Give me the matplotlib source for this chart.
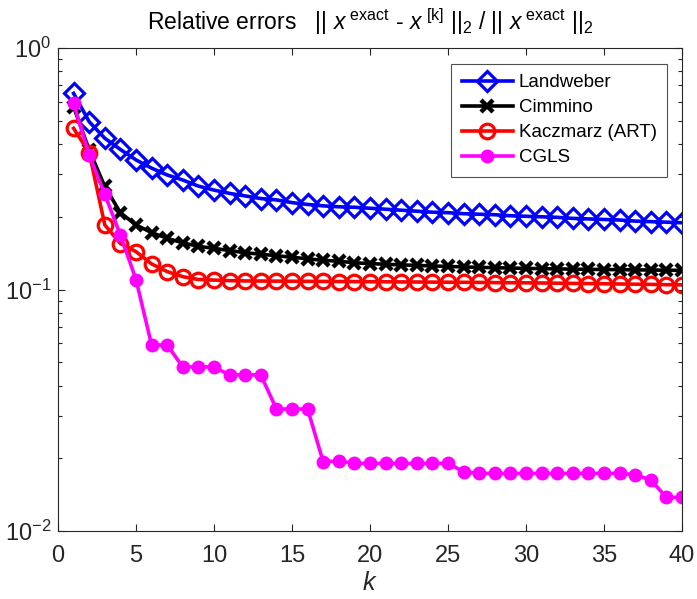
# -*- coding: utf-8 -*-
# relative_errors.py

import numpy as np
import matplotlib
matplotlib.use("Agg")
import matplotlib.pyplot as plt
from matplotlib.ticker import LogLocator, NullFormatter

plt.rcParams['font.family'] = ['Liberation Sans', 'DejaVu Sans']
plt.rcParams['mathtext.fontset'] = 'custom'
plt.rcParams['mathtext.rm'] = 'Liberation Sans'
plt.rcParams['mathtext.it'] = 'Liberation Sans:italic'
plt.rcParams['mathtext.bf'] = 'Liberation Sans:bold'

# iteration numbers
k = np.arange(1, 41)

# relative errors
landweber = [0.649, 0.495, 0.423, 0.380, 0.344, 0.318, 0.298, 0.284, 0.268, 0.258,
             0.250, 0.244, 0.238, 0.235, 0.229, 0.225, 0.222, 0.220, 0.219, 0.217,
             0.215, 0.213, 0.211, 0.209, 0.208, 0.206, 0.205, 0.204, 0.202, 0.201,
             0.200, 0.199, 0.197, 0.196, 0.195, 0.194, 0.192, 0.191, 0.190, 0.189]
cimmino = [0.571, 0.378, 0.267, 0.208, 0.185, 0.172, 0.163, 0.156, 0.151, 0.148,
           0.145, 0.142, 0.140, 0.138, 0.136, 0.134, 0.132, 0.131, 0.129, 0.128,
           0.1272, 0.1265, 0.1258, 0.1252, 0.1246, 0.1240, 0.1235, 0.1231, 0.1227, 0.1223,
           0.1220, 0.1217, 0.1214, 0.1212, 0.1210, 0.1208, 0.1206, 0.1204, 0.1202, 0.1200]
kaczmarz = [0.465, 0.369, 0.185, 0.155, 0.1435, 0.1276, 0.1186, 0.113, 0.110, 0.1094,
            0.1088, 0.1085, 0.1084, 0.1083, 0.1082, 0.1081, 0.1080, 0.1079, 0.1078, 0.1077,
            0.1076, 0.1075, 0.1074, 0.1073, 0.1072, 0.1071, 0.1070, 0.1068, 0.1067, 0.1066,
            0.1064, 0.1062, 0.1060, 0.1058, 0.1056, 0.1054, 0.1052, 0.1050, 0.1047, 0.1045]
cgls = [0.590, 0.361, 0.248, 0.168, 0.110, 0.0589, 0.0589, 0.0478, 0.0478, 0.0478,
        0.0443, 0.0443, 0.0443, 0.0320, 0.0320, 0.0320, 0.01936, 0.0195, 0.01906, 0.01906,
        0.01906, 0.01906, 0.01906, 0.01906, 0.01906, 0.0176, 0.01733, 0.01733, 0.01733, 0.01733,
        0.01733, 0.01733, 0.01733, 0.01733, 0.01733, 0.01733, 0.0171, 0.01626, 0.01378, 0.01378]

labels = ['Landweber', 'Cimmino', 'Kaczmarz (ART)', 'CGLS']
x_ticks = [0, 5, 10, 15, 20, 25, 30, 35, 40]

fig = plt.figure(figsize=(6.97, 5.99), dpi=100)
ax = fig.add_axes([58 / 697, 68 / 599, 624 / 697, 483 / 599])

lw = 2.6
ax.plot(k, landweber, color=(0, 0, 1), lw=lw, marker='D', ms=10, mfc='none',
        mew=2.3, label=labels[0])
ax.plot(k, cimmino, color='black', lw=lw, marker='x', ms=9, mew=3.2,
        label=labels[1])
ax.plot(k, kaczmarz, color=(1, 0, 0), lw=lw, marker='o', ms=10.5, mfc='none',
        mew=2.3, label=labels[2])
ax.plot(k, cgls, color=(1, 0, 1), lw=lw, marker='o', ms=9, mfc=(1, 0, 1),
        mew=1, label=labels[3])

ax.set_yscale('log')
ax.set_xlim(0, 40)
ax.set_ylim(1e-2, 1e0)
ax.set_xticks(x_ticks)
ax.yaxis.set_minor_locator(LogLocator(base=10, subs=np.arange(2, 10)))
ax.yaxis.set_minor_formatter(NullFormatter())

edge = '#262626'
for s in ax.spines.values():
    s.set_color(edge)
    s.set_linewidth(0.8)
ax.tick_params(which='both', direction='in', top=True, right=True,
               colors=edge, labelcolor=edge, labelsize=17)
ax.tick_params(which='major', length=5, width=0.8)
ax.tick_params(which='minor', length=3, width=0.8)
ax.tick_params(axis='x', pad=10)
ax.tick_params(axis='y', pad=5)

ax.set_xlabel('$k$', fontsize=18, color=edge, labelpad=3)

title = (r'Relative errors   $||\ x^{\ \mathrm{exact}}$ - '
         r'$x^{\ [\mathrm{k}]}\ ||_{2}$ / $||\ x^{\ \mathrm{exact}}\ ||_{2}$')
fig.text(370 / 697, 1 - 22 / 599, title, ha='center', va='center',
         fontsize=16.5, color='black')

leg = ax.legend(loc='upper right', bbox_to_anchor=(667 / 697, 1 - 64 / 599),
                bbox_transform=fig.transFigure, fontsize=13.5, frameon=True,
                fancybox=False, edgecolor=edge, handlelength=2.75,
                handletextpad=0.3, borderpad=0.55, labelspacing=0.42,
                borderaxespad=0)
leg.get_frame().set_linewidth(0.8)

fig.savefig('out.png', dpi=100)
